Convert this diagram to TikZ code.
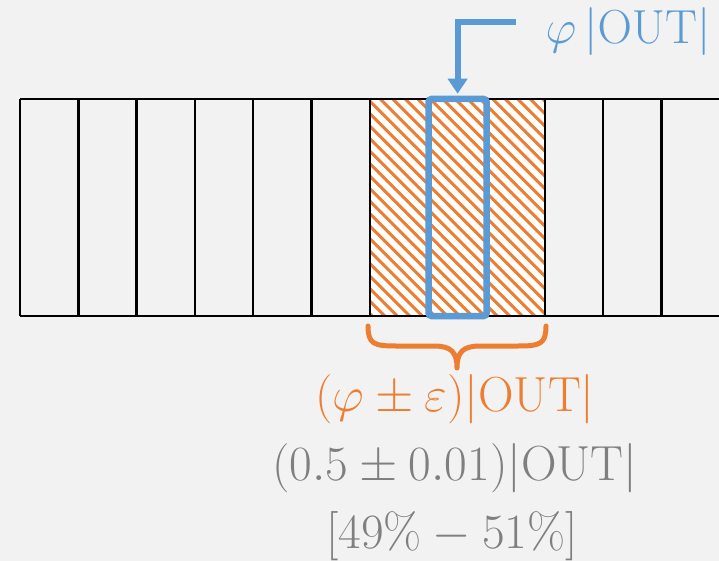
\RequirePackage{fix-cm}
\documentclass[tikz,border=0pt]{standalone}
\usetikzlibrary{arrows.meta}
\definecolor{bg}{HTML}{F2F2F2}
\definecolor{orng}{HTML}{ED7D31}
\definecolor{blu}{HTML}{5B9BD5}
\definecolor{gry}{HTML}{7F7F7F}
\tikzset{
  cellline/.style={black, line width=2.4pt},
  hatchline/.style={orng, line width=3pt},
  selbox/.style={draw=blu, line width=6.5pt, rounded corners=3pt, minimum width=58pt, minimum height=217pt, inner sep=0pt},
  selarrow/.style={blu, line width=6pt, -{Triangle[width=19pt,length=15pt]}},
  bracestyle/.style={orng, line width=5pt, line cap=round, line join=round},
  lbl/.style={inner sep=0pt, font=\fontsize{34}{40}\selectfont, scale=1.45, transform shape}
}
\begin{document}
\begin{tikzpicture}[x=1pt,y=-1pt]
  \fill[bg] (0,0) rectangle (719,561);
  \useasboundingbox (0,0) rectangle (719,561);
  % hatched region
  \fill[white] (369.8,99) rectangle (544.7,316);
  \begin{scope}
    \clip (369.8,99) rectangle (544.7,316);
    \foreach \d in {-230,-217.5,...,190} {
      \draw[hatchline] (369.8+\d,96) -- (369.8+\d+223,319);
    }
  \end{scope}
  % array
  \draw[cellline] (20,99) -- (722,99);
  \draw[cellline] (20,316) -- (722,316);
  \foreach \k in {0,...,11} {
    \draw[cellline] (20+58.3*\k,99) -- (20+58.3*\k,316);
  }
  % selected column
  \node[selbox] (sel) at (457.6,207.5) {};
  \coordinate (as) at (516,22);
  \draw[selarrow] (as) -| ([yshift=2pt]sel.north);
  \node[lbl, text=blu, scale=0.97] (phi) at (628,32) {$\varphi\,|\mathrm{OUT}|$};
  % brace
  \coordinate (bl) at (368,326);
  \coordinate (br) at (546,326);
  \coordinate (tip) at (457,368);
  \draw[bracestyle] (bl) .. controls (368,344) and (374,346) .. (396,346)
    -- (434,346) .. controls (451,346) and (457,352) .. (tip)
    .. controls (457,352) and (463,346) .. (480,346)
    -- (518,346) .. controls (540,346) and (546,344) .. (br);
  % labels
  \node[lbl, text=orng] (l1) at (455,399) {$(\varphi\pm\varepsilon)|\mathrm{OUT}|$};
  \node[lbl, text=gry] (l2) at (455,468) {$(0.5\pm0.01)|\mathrm{OUT}|$};
  \node[lbl, text=gry] (l3) at (452,536) {$[49\%-51\%]$};
\end{tikzpicture}
\end{document}
